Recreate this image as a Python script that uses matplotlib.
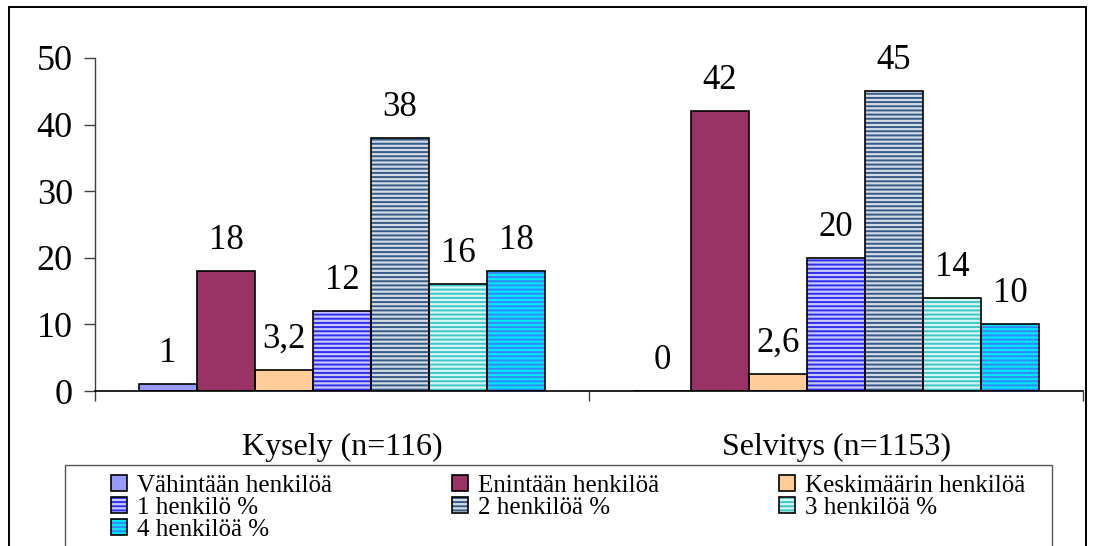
import matplotlib
matplotlib.use("Agg")
import matplotlib.pyplot as plt
from matplotlib.patches import Rectangle

# Data
categories = ["Kysely (n=116)", "Selvitys (n=1153)"]
series_names = [
    "Vähintään henkilöä",
    "Enintään henkilöä",
    "Keskimäärin henkilöä",
    "1 henkilö %",
    "2 henkilöä %",
    "3 henkilöä %",
    "4 henkilöä %",
]
vahintaan = [1, 0]
enintaan = [18, 42]
keskimaarin = [3.2, 2.6]
yksi = [12, 20]
kaksi = [38, 45]
kolme = [16, 14]
nelja = [18, 10]
series_values = [vahintaan, enintaan, keskimaarin, yksi, kaksi, kolme, nelja]
y_ticks = [0, 10, 20, 30, 40, 50]

# Styles: (face colour, stripe colour or None)
styles = [
    ("#9999FF", None),
    ("#993366", None),
    ("#FFCC99", None),
    ("#C8C8FF", "#2E2EF2"),
    ("#D4DBE5", "#335B88"),
    ("#D6F6F6", "#3CC6C6"),
    ("#00E6FF", "#3388FF"),
]

plt.rcParams["font.family"] = ["Liberation Serif", "DejaVu Serif"]
plt.rcParams["hatch.linewidth"] = 1.4

W, H = 1096, 546
fig = plt.figure(figsize=(W / 100, H / 100), dpi=100)
fig.patch.set_facecolor("white")

ax = fig.add_axes([95 / W, 1 - 391 / H, (1083 - 95) / W, (391 - 58) / H])
ax.set_xlim(0, 2)
ax.set_ylim(0, 50)

n = len(series_values)
bw = 0.1174
centers = [0.5, 1.5]

def fmt(v):
    if float(v).is_integer():
        return str(int(v))
    return f"{v}".replace(".", ",")

handles = []
for i, (vals, (face, stripe)) in enumerate(zip(series_values, styles)):
    xs = [c + (i - (n - 1) / 2) * bw for c in centers]
    if stripe is None:
        fill = ax.bar(xs, vals, width=bw, color=face, linewidth=0, zorder=2)
    else:
        fill = ax.bar(xs, vals, width=bw, color=face, edgecolor=stripe,
                      hatch="----", linewidth=0, zorder=2)
    outline = ax.bar(xs, vals, width=bw, fill=False, edgecolor="black",
                     linewidth=1.2, zorder=3)
    handles.append((fill.patches[0], outline.patches[0]))
    for x, v in zip(xs, vals):
        ax.annotate(fmt(v), (x, v), xytext=(0, 16), textcoords="offset points",
                    ha="center", va="baseline", fontsize=25)

# Axes styling
for s in ("top", "right"):
    ax.spines[s].set_visible(False)
ax.spines["left"].set_color("#404040")
ax.spines["bottom"].set_color("black")
ax.spines["left"].set_linewidth(1.0)
ax.spines["bottom"].set_linewidth(1.2)

ax.set_yticks(y_ticks)
ax.tick_params(axis="y", direction="out", length=8, width=1, color="#404040",
               labelsize=26, pad=8)
ax.set_xticks([0, 1, 2])
ax.set_xticklabels([])
ax.tick_params(axis="x", which="major", direction="out", length=7, width=1,
               color="#404040")
ax.set_xticks(centers, categories, minor=True)
ax.tick_params(axis="x", which="minor", length=0, labelsize=23, pad=30.5)

# Legend
order = [0, 3, 6, 1, 4, 2, 5]
fig.legend([handles[k] for k in order], [series_names[k] for k in order],
           loc="upper left", bbox_to_anchor=(111 / W, 1 - 475 / H),
           ncol=3, frameon=False, fontsize=18, borderpad=0, borderaxespad=0,
           handlelength=0.64, handleheight=0.6, handletextpad=0.4,
           columnspacing=4.8, labelspacing=0.0)

# Legend frame and outer frame
fig.add_artist(Rectangle((65 / W, -0.05), (1052 - 65) / W, 1 - 465 / H + 0.05,
                         transform=fig.transFigure, fill=False,
                         edgecolor="#555555", linewidth=1.0))
fig.add_artist(Rectangle((9 / W, -0.05), (1086 - 9) / W, 1 - 7 / H + 0.05,
                         transform=fig.transFigure, fill=False,
                         edgecolor="black", linewidth=1.4))

fig.savefig("out.png", dpi=100)
